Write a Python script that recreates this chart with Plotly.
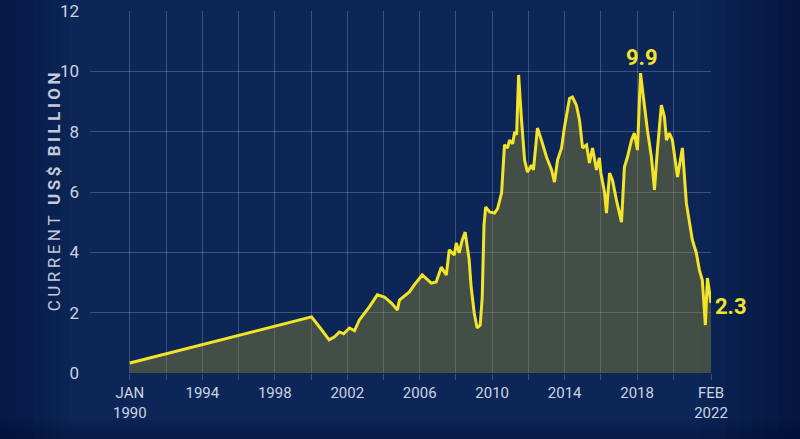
import plotly.graph_objects as go

# readings, current US$ billion
years = [1990.0, 2000.03, 2000.5, 2001.0, 2001.3, 2001.57, 2001.8, 2002.12, 2002.4, 2002.67,
         2003.22, 2003.66, 2004.05, 2004.44, 2004.77, 2004.88, 2005.43, 2005.7, 2006.14,
         2006.42, 2006.64, 2006.91, 2007.19, 2007.47, 2007.63, 2007.91, 2008.02, 2008.18,
         2008.35, 2008.51, 2008.73, 2008.84, 2009.01, 2009.17, 2009.34, 2009.45, 2009.55,
         2009.64, 2009.86, 2010.13, 2010.3, 2010.52, 2010.68, 2010.85, 2010.96, 2011.13,
         2011.24, 2011.35, 2011.46, 2011.62, 2011.79, 2011.95, 2012.17, 2012.28, 2012.5,
         2012.72, 2013.0, 2013.28, 2013.44, 2013.61, 2013.83, 2013.99, 2014.27, 2014.43,
         2014.65, 2014.82, 2014.99, 2015.21, 2015.37, 2015.54, 2015.76, 2015.92, 2016.0,
         2016.2, 2016.31, 2016.48, 2016.64, 2016.86, 2017.03, 2017.14, 2017.3, 2017.47,
         2017.69, 2017.85, 2018.02, 2018.19, 2018.3, 2018.41, 2018.57, 2018.79, 2018.96,
         2019.12, 2019.34, 2019.51, 2019.62, 2019.78, 2019.95, 2020.23, 2020.5, 2020.72,
         2020.89, 2021.05, 2021.27, 2021.44, 2021.6, 2021.77, 2021.88, 2022.08]
values = [0.33, 1.86, 1.5, 1.1, 1.2, 1.36, 1.3, 1.49, 1.4, 1.76,
          2.19, 2.59, 2.52, 2.32, 2.09, 2.42, 2.69, 2.92, 3.25,
          3.08, 2.98, 3.02, 3.51, 3.25, 4.08, 3.91, 4.31, 3.98,
          4.41, 4.67, 3.75, 2.85, 1.99, 1.49, 1.59, 2.5, 4.9,
          5.5, 5.34, 5.3, 5.45, 5.97, 7.56, 7.46, 7.72, 7.6,
          7.99, 7.9, 9.88, 8.39, 7.06, 6.66, 6.89, 6.73, 8.12,
          7.72, 7.16, 6.73, 6.33, 7.06, 7.46, 8.15, 9.1, 9.15,
          8.88, 8.39, 7.46, 7.56, 6.96, 7.46, 6.73, 7.13, 6.63,
          6.0, 5.3, 6.63, 6.4, 5.73, 5.3, 5.0, 6.83, 7.16,
          7.72, 7.95, 7.39, 9.94, 9.38, 8.82, 8.05, 7.16, 6.07,
          7.39, 8.88, 8.49, 7.72, 7.95, 7.72, 6.5, 7.46, 5.63,
          5.07, 4.41, 3.98, 3.41, 3.08, 1.59, 3.15, 2.32]

tick_vals = [1990, 1992, 1994, 1996, 1998, 2000, 2002, 2004, 2006, 2008, 2010,
             2012, 2014, 2016, 2018, 2020, 2022.08]
tick_text = ["JAN<br>1990", "", "1994", "", "1998", "", "2002", "", "2006", "",
             "2010", "", "2014", "", "2018", "", "FEB<br>2022"]

peak_label = "9.9"
last_label = "2.3"

bg = "#0c2657"
yellow = "#f3e42a"
grid = "rgba(255,255,255,0.2)"

fig = go.Figure()
fig.add_trace(go.Scatter(
    x=years, y=values, mode="lines",
    line=dict(color=yellow, width=3),
    fill="tozeroy", fillcolor="rgba(149,140,47,0.4)",
    hoverinfo="skip"))

# peak and latest value labels
fig.add_annotation(x=2018.25, y=9.94, text="<b>" + peak_label + "</b>", showarrow=False,
                   yanchor="bottom", yshift=1,
                   font=dict(family="Roboto", size=22, color=yellow))
fig.add_annotation(x=2022.08, y=2.35, text="<b>" + last_label + "</b>", showarrow=False,
                   xanchor="left", xshift=2, yshift=-4,
                   font=dict(family="Roboto", size=22, color=yellow))

# axis title, spaced out letters
sp = "\u2009"
title = sp.join("CURRENT") + sp * 3 + "<b>" + sp.join("US$") + sp * 3 + sp.join("BILLION") + "</b>"
fig.add_annotation(x=-0.077, y=0.5, xref="paper", yref="paper", text=title,
                   textangle=-90, showarrow=False,
                   font=dict(family="Roboto", size=17, color="#c3cadb"))

# darker edges, a rough stand-in for the vignette
def px(p):
    return (p - 90) / 621.0

for i in range(8):
    fig.add_shape(type="rect", xref="paper", yref="paper", x0=px(-10), x1=px(70 - i * 9),
                  y0=-0.25, y1=1.05, fillcolor="rgba(3,8,30,0.035)", line_width=0,
                  layer="below")
    fig.add_shape(type="rect", xref="paper", yref="paper", x0=px(700 + i * 13), x1=px(810),
                  y0=-0.25, y1=1.05, fillcolor="rgba(3,8,30,0.04)", line_width=0,
                  layer="below")
for i in range(4):
    fig.add_shape(type="rect", xref="paper", yref="paper", x0=px(-10), x1=px(810),
                  y0=-0.25, y1=-0.13 - i * 0.012, fillcolor="rgba(3,8,30,0.06)",
                  line_width=0, layer="below")

fig.update_layout(
    width=800, height=439,
    margin=dict(l=90, r=89, t=11, b=66),
    paper_bgcolor=bg, plot_bgcolor="rgba(0,0,0,0)",
    showlegend=False,
    font=dict(family="Roboto", size=14, color="#cdd3e3"),
    xaxis=dict(range=[1987.8, 2022.08], tickmode="array", tickvals=tick_vals,
               ticktext=tick_text, showgrid=True, gridcolor=grid, gridwidth=1,
               ticks="outside", ticklen=6, tickcolor=grid, zeroline=False,
               showline=False, automargin=False, tickfont=dict(size=15)),
    yaxis=dict(range=[0, 12], tickvals=[0, 2, 4, 6, 8, 10, 12], showgrid=True,
               gridcolor=grid, gridwidth=1, zeroline=False, ticks="",
               ticklabelstandoff=10, tickfont=dict(size=17), automargin=False),
)

fig.write_html("out.html", config={"displayModeBar": False},
               post_script="document.body.style.margin='0';"
                           "document.body.style.background='%s';" % bg)
